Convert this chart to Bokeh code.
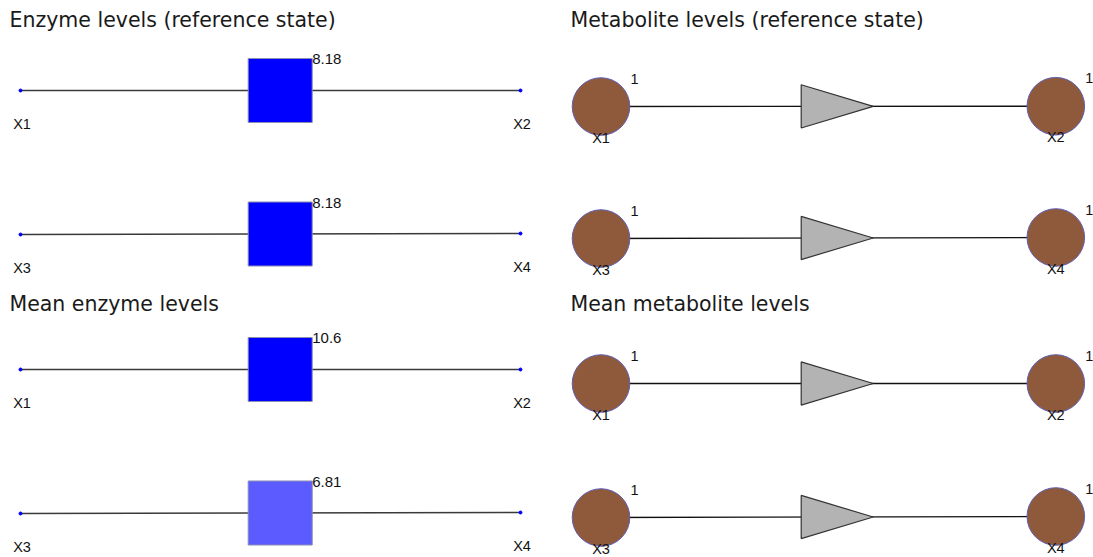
from bokeh.plotting import figure
from bokeh.models import Range1d
from bokeh.core.properties import value
from bokeh.embed import file_html
from bokeh.resources import INLINE

# ---------------- data ----------------
reactions = [("X1", "X2"), ("X3", "X4")]
enzyme_ref = [8.18, 8.18]
enzyme_mean = [10.6, 6.81]
metab_ref = [1, 1, 1, 1]      # X1, X2, X3, X4
metab_mean = [1, 1, 1, 1]
metab_names = ["X1", "X2", "X3", "X4"]
titles = ["Enzyme levels (reference state)", "Metabolite levels (reference state)",
          "Mean enzyme levels", "Mean metabolite levels"]

# ---------------- layout (pixel canvas) ----------------
W, H = 1093, 557
TITLE_POS = [(9, 19), (570, 19), (9, 303), (570, 303)]
ENZ_X = (20, 520)
ENZ_ROWS = {"ref": [(90, 90), (234, 233)], "mean": [(369, 369), (513, 512)]}
SQ_X, SQ_SIDE = 279.7, 64
MET_X = (600.5, 1055.3)
MET_ROWS = {"ref": [(106, 105.7), (238, 237)], "mean": [(383, 383), (517, 516)]}
TRI_BASE, TRI_TIP, TRI_HALF = 800.7, 872.7, 21.6
CIRC_R = 28.8

FONT = value("Liberation Sans")
TITLE_FONT = value("DejaVu Sans")

p = figure(width=W, height=H, output_backend="svg", toolbar_location=None,
           x_range=Range1d(0, W), y_range=Range1d(H, 0), min_border=0)
p.xaxis.visible = False
p.yaxis.visible = False
p.grid.visible = False
p.outline_line_color = None
p.background_fill_color = "white"
p.border_fill_color = "white"

# titles
p.text(x=[t[0] for t in TITLE_POS], y=[t[1] for t in TITLE_POS], text=titles,
       text_font=TITLE_FONT, text_font_size="20.5px", text_color="#1a1a1a",
       text_align="left", text_baseline="middle")


def blue_shade(v, vmax):
    f = v / vmax
    c = int(round(255 * (1 - f)))
    return "#%02x%02xff" % (c, c)


def enzyme_panel(levels, rows):
    vmax = max(levels)
    for (a, b), lvl, (y0, y1) in zip(reactions, levels, rows):
        p.line(x=list(ENZ_X), y=[y0, y1], line_color="#3a3a3a", line_width=1.6)
        p.scatter(x=list(ENZ_X), y=[y0, y1], size=3, color="blue", marker="circle")
        ym = (y0 + y1) / 2
        p.rect(x=[SQ_X], y=[ym], width=SQ_SIDE, height=SQ_SIDE,
               fill_color=blue_shade(lvl, vmax), line_color="#8c8cb4", line_width=1)
        p.text(x=[SQ_X + SQ_SIDE / 2], y=[ym - SQ_SIDE / 2 + 0.5], text=["%g" % lvl],
               text_font=FONT, text_font_size="15px", text_color="#111111",
               text_align="left", text_baseline="middle")
        p.text(x=[ENZ_X[0] + 1.5, ENZ_X[1] + 1.5], y=[y0 + 33, y1 + 33], text=[a, b],
               text_font=FONT, text_font_size="14.5px", text_color="#111111",
               text_align="center", text_baseline="middle")


def metab_panel(levels, rows):
    for i, ((a, b), (y0, y1)) in enumerate(zip(reactions, rows)):
        p.line(x=list(MET_X), y=[y0, y1], line_color="#111111", line_width=1.4)
        ym = (y0 + y1) / 2
        p.patches(xs=[[TRI_BASE, TRI_BASE, TRI_TIP]],
                  ys=[[ym - TRI_HALF, ym + TRI_HALF, ym]],
                  fill_color="#b3b3b3", line_color="#333333", line_width=1.2)
        p.circle(x=list(MET_X), y=[y0, y1], radius=CIRC_R,
                 fill_color="#8f5a3c", line_color="#5f5fb4", line_width=1)
        vals = [levels[2 * i], levels[2 * i + 1]]
        p.text(x=[MET_X[0] + 29.5, MET_X[1] + 29.5], y=[y0 - 28, y1 - 28],
               text=["%g" % v for v in vals],
               text_font=FONT, text_font_size="14.5px", text_color="#111111",
               text_align="left", text_baseline="middle")
        p.text(x=[MET_X[0], MET_X[1]], y=[y0 + 31, y1 + 31], text=[a, b],
               text_font=FONT, text_font_size="14.5px", text_color="#111111",
               text_align="center", text_baseline="middle")


enzyme_panel(enzyme_ref, ENZ_ROWS["ref"])
enzyme_panel(enzyme_mean, ENZ_ROWS["mean"])
metab_panel(metab_ref, MET_ROWS["ref"])
metab_panel(metab_mean, MET_ROWS["mean"])

open("out.html", "w").write(file_html(p, INLINE))
